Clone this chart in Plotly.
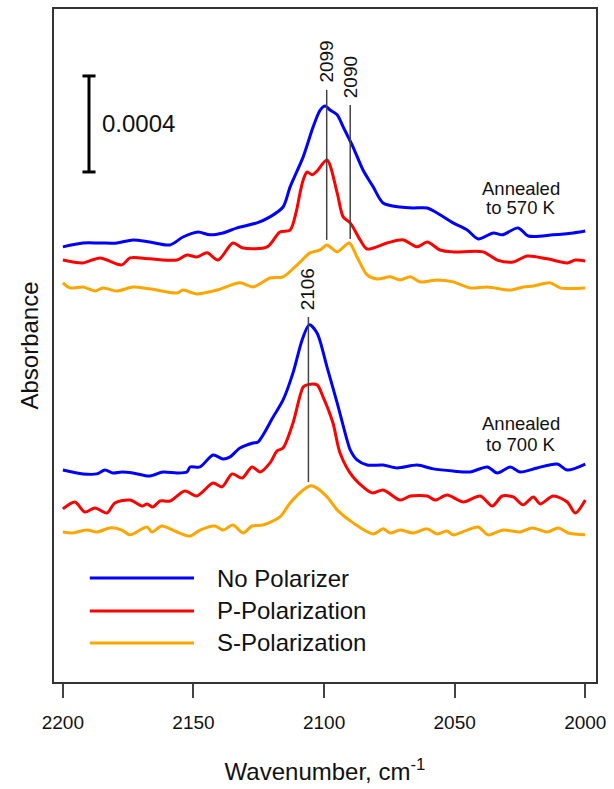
import plotly.graph_objects as go

# ---------------- data (absorbance in units of 1e-4, spectra stacked) ----------------
# Annealed to 570 K
wn_570_np = [2200, 2192.3, 2185.8, 2179.3, 2173.2, 2166.7, 2159.0, 2154.0, 2148.3, 2143.7, 2138.7, 2133.3,
             2125.7, 2120.7, 2115.7, 2113.0, 2108.0, 2104.2, 2101.5, 2099.6, 2097.7, 2095.0, 2092.7, 2088.9,
             2085.1, 2081.2, 2077.4, 2070.9, 2065.9, 2060.5, 2056.7, 2050.6, 2045.2, 2041.0, 2035.2, 2031.8,
             2025.7, 2021.8, 2012.3, 2004.6, 2000.0]
abs_570_np = [18.13, 18.29, 18.29, 18.29, 18.42, 18.33, 18.21, 18.54, 18.75, 18.63, 18.71, 18.92,
              19.13, 19.38, 19.79, 20.63, 21.88, 23.13, 23.83, 24.0, 23.83, 23.63, 23.13, 22.29,
              21.33, 20.63, 19.96, 19.79, 19.75, 19.75, 19.54, 19.13, 18.83, 18.46, 18.71, 18.63,
              18.92, 18.58, 18.63, 18.71, 18.79]

wn_570_p = [2200, 2192.3, 2185.8, 2177.4, 2174.3, 2166.7, 2156.3, 2152.5, 2148.7, 2144.8, 2140.6, 2134.9,
            2131.0, 2121.8, 2116.9, 2113.0, 2110.7, 2109.2, 2108.0, 2106.5, 2104.5, 2102.7, 2098.9, 2095.0,
            2092.7, 2090.0, 2086.2, 2083.5, 2075.9, 2069.7, 2064.4, 2060.5, 2055.6, 2050.6, 2039.1, 2033.7,
            2027.6, 2022.2, 2014.6, 2006.9, 2003.8, 2000.0]
abs_570_p = [17.58, 17.46, 17.67, 17.38, 17.67, 17.63, 17.58, 17.79, 17.71, 17.88, 17.58, 18.29,
             18.08, 18.13, 18.75, 18.83, 19.58, 20.38, 20.92, 21.25, 21.13, 21.29, 21.75, 20.38,
             19.38, 19.13, 18.42, 18.04, 18.29, 18.42, 18.13, 18.33, 18.0, 17.92, 17.92, 17.58,
             17.5, 17.75, 17.63, 17.46, 17.58, 17.54]

wn_570_s = [2200, 2197.3, 2192.3, 2187.7, 2184.7, 2179.3, 2173.2, 2166.7, 2156.3, 2154.0, 2148.7, 2141.0,
            2132.2, 2127.2, 2120.7, 2115.7, 2110.3, 2105.4, 2101.5, 2098.9, 2095.0, 2090.4, 2087.4, 2083.5,
            2079.7, 2074.7, 2070.9, 2067.0, 2063.2, 2056.7, 2050.6, 2044.1, 2037.5, 2028.7, 2023.8, 2019.9,
            2013.4, 2009.6, 2000.0]
abs_570_s = [16.63, 16.42, 16.46, 16.29, 16.42, 16.29, 16.46, 16.38, 16.21, 16.33, 16.17, 16.33,
             16.63, 16.46, 16.83, 16.88, 17.38, 17.88, 18.0, 18.21, 17.92, 18.29, 17.71, 16.96,
             16.79, 16.88, 16.75, 16.88, 16.67, 16.75, 16.67, 16.42, 16.46, 16.33, 16.46, 16.5,
             16.63, 16.42, 16.42]

# Annealed to 700 K
wn_700_np = [2200, 2192.3, 2187.0, 2183.9, 2180.8, 2177.4, 2173.2, 2166.7, 2161.7, 2156.3, 2152.5, 2151.3,
             2147.5, 2142.5, 2138.7, 2136.0, 2132.2, 2127.2, 2125.3, 2119.5, 2115.7, 2111.9, 2108.4, 2105.7,
             2102.7, 2098.9, 2095.0, 2091.2, 2090.0, 2087.4, 2083.5, 2077.4, 2072.0, 2064.4, 2058.2, 2050.6,
             2044.1, 2037.5, 2033.7, 2028.7, 2024.9, 2018.4, 2010.7, 2006.9, 2000.0]
abs_700_np = [8.83, 8.67, 8.67, 8.83, 8.71, 8.75, 8.71, 8.58, 8.75, 8.71, 8.75, 8.96,
              8.96, 9.46, 9.29, 9.38, 9.75, 9.96, 10.0, 11.04, 11.75, 12.88, 14.25, 14.88,
              14.54, 13.13, 11.63, 10.08, 9.67, 9.25, 9.04, 9.04, 8.92, 9.04, 8.88, 8.79,
              8.75, 8.96, 8.71, 8.96, 8.75, 8.92, 9.08, 8.83, 9.08]

wn_700_p = [2200, 2195.4, 2191.6, 2187.7, 2183.1, 2180.1, 2174.3, 2169.7, 2167.8, 2165.5, 2162.8, 2159.0,
            2153.3, 2148.7, 2142.5, 2139.1, 2135.2, 2131.4, 2127.6, 2124.5, 2120.7, 2118.0, 2115.7, 2111.9,
            2108.0, 2106.5, 2102.7, 2100.4, 2096.6, 2093.9, 2088.9, 2081.6, 2077.4, 2070.9, 2067.0, 2060.5,
            2057.5, 2052.9, 2046.7, 2040.2, 2035.6, 2031.8, 2027.6, 2023.8, 2019.9, 2017.2, 2012.3, 2006.9,
            2003.8, 2000.0]
abs_700_p = [7.21, 7.5, 7.08, 7.25, 7.04, 7.46, 7.58, 7.33, 7.42, 7.29, 7.54, 7.54,
             7.96, 7.75, 8.29, 8.13, 8.67, 8.5, 8.96, 8.75, 9.13, 9.63, 9.75, 10.79,
             12.29, 12.38, 12.38, 11.88, 10.79, 9.54, 8.54, 7.88, 8.0, 7.58, 7.75, 7.75,
             7.58, 7.79, 7.5, 7.75, 7.33, 7.75, 7.71, 7.38, 7.71, 7.42, 7.75, 7.5,
             7.04, 7.58]

wn_700_s = [2200, 2196.2, 2190.8, 2187.0, 2182.0, 2177.4, 2174.3, 2167.8, 2165.9, 2162.1, 2156.3, 2151.3,
            2147.5, 2141.8, 2138.7, 2134.9, 2131.0, 2127.6, 2123.4, 2116.9, 2113.0, 2108.0, 2105.4, 2102.7,
            2098.5, 2095.0, 2088.9, 2081.2, 2077.4, 2074.7, 2070.9, 2065.9, 2060.5, 2056.7, 2052.9, 2050.6,
            2045.2, 2041.0, 2037.2, 2031.4, 2024.9, 2020.3, 2014.6, 2010.3, 2006.5, 2000.0]
abs_700_s = [6.25, 6.21, 6.33, 6.25, 6.42, 6.33, 6.13, 6.46, 6.25, 6.5, 6.25, 6.08,
             6.33, 6.5, 6.33, 6.54, 6.21, 6.5, 6.54, 6.88, 7.46, 8.0, 8.17, 8.08,
             7.67, 7.17, 6.63, 6.17, 6.38, 6.21, 6.33, 6.21, 6.38, 6.17, 6.29, 6.13,
             6.33, 6.46, 6.13, 6.33, 6.25, 6.42, 6.25, 6.42, 6.21, 6.13]

series_names = ["No Polarizer", "P-Polarization", "S-Polarization"]
series_colors = ["#0000FF", "#FF0000", "#FFA500"]

peak_wn = [2099, 2090, 2106]
peak_labels = ["2099", "2090", "2106"]
peak_y_low = [18.42, 18.46, 8.33]
peak_y_high = [24.67, 24.04, 15.21]

x_ticks = [2200, 2150, 2100, 2050, 2000]
scale_bar_units = 4  # 0.0004 absorbance in units of 1e-4

FONT = "Liberation Sans, Arial, Helvetica, sans-serif"

fig = go.Figure()
groups = [
    [(wn_570_np, abs_570_np), (wn_570_p, abs_570_p), (wn_570_s, abs_570_s)],
    [(wn_700_np, abs_700_np), (wn_700_p, abs_700_p), (wn_700_s, abs_700_s)],
]
for gi, grp in enumerate(groups):
    for si, (xs, ys) in enumerate(grp):
        fig.add_trace(go.Scatter(
            x=xs, y=ys, mode="lines", name=series_names[si],
            line=dict(color=series_colors[si], width=3, shape="spline", smoothing=0.8),
            showlegend=False, hoverinfo="skip"))

shapes = []
annotations = []
# peak marker lines and labels
for wn, lab, y0, y1 in zip(peak_wn, peak_labels, peak_y_low, peak_y_high):
    shapes.append(dict(type="line", xref="x", yref="y", x0=wn, x1=wn, y0=y0, y1=y1,
                       line=dict(color="#444444", width=1.5)))
    annotations.append(dict(x=wn, y=y1, xref="x", yref="y", text=lab, showarrow=False,
                            textangle=-90, xanchor="center", yanchor="bottom", yshift=5,
                            font=dict(family=FONT, size=19, color="#111111")))

# scale bar
sb_x = 2190.0
sb_y0 = 21.25
shapes.append(dict(type="line", x0=sb_x, x1=sb_x, y0=sb_y0, y1=sb_y0 + scale_bar_units,
                   line=dict(color="black", width=3)))
for yy in (sb_y0, sb_y0 + scale_bar_units):
    shapes.append(dict(type="line", x0=sb_x - 2.5, x1=sb_x + 2.5, y0=yy, y1=yy,
                       line=dict(color="black", width=3)))
annotations.append(dict(x=2185.6, y=sb_y0 + scale_bar_units / 2, text="0.0004", showarrow=False,
                        xanchor="left", yanchor="middle",
                        font=dict(family=FONT, size=24, color="#111111")))

# annealing labels
for txt, yy in [("Annealed", 20.58), ("to 570 K", 19.75), ("Annealed", 10.79), ("to 700 K", 9.875)]:
    annotations.append(dict(x=2024.6, y=yy, text=txt, showarrow=False, xanchor="center",
                            yanchor="middle", font=dict(family=FONT, size=18.5, color="#111111")))

# manual legend
leg_y = [4.33, 2.96, 1.63]
for name, col, yy in zip(series_names, series_colors, leg_y):
    shapes.append(dict(type="line", x0=2189.7, x1=2149.8, y0=yy, y1=yy,
                       line=dict(color=col, width=3)))
    annotations.append(dict(x=2141.8, y=yy, text=name, showarrow=False, xanchor="left",
                            yanchor="middle", font=dict(family=FONT, size=24, color="#111111")))

fig.update_layout(
    width=614, height=789,
    margin=dict(l=54, r=18, t=9, b=107),
    paper_bgcolor="white", plot_bgcolor="white",
    font=dict(family=FONT, color="#111111"),
    shapes=shapes, annotations=annotations,
    showlegend=False,
)
fig.update_xaxes(
    range=[2203.4, 1995.9], tickvals=x_ticks, ticktext=[str(t) for t in x_ticks],
    ticks="outside", ticklen=14, tickwidth=1.5, tickcolor="#444444",
    tickfont=dict(family=FONT, size=19, color="#111111"), ticklabelstandoff=8,
    showline=True, mirror=True, linecolor="#333333", linewidth=1.5,
    showgrid=False, zeroline=False, automargin=False,
    title=dict(text="Wavenumber, cm<sup>-1</sup>", font=dict(family=FONT, size=24, color="#111111"),
               standoff=32),
)
fig.update_yaxes(
    range=[0, 28.04], showticklabels=False, ticks="",
    showline=True, mirror=True, linecolor="#333333", linewidth=1.5,
    showgrid=False, zeroline=False, automargin=False,
    title=dict(text="Absorbance", font=dict(family=FONT, size=24, color="#111111"), standoff=7),
)

fig.write_html("out.html")
